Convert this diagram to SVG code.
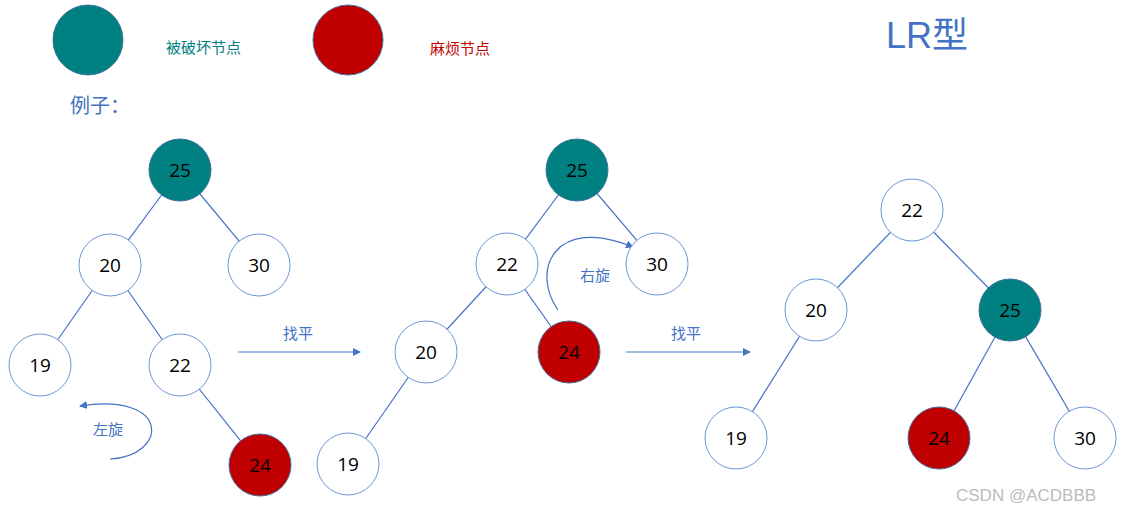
<svg xmlns="http://www.w3.org/2000/svg" width="1125" height="515" viewBox="0 0 1125 515">
<defs>
<marker id="ah" markerWidth="8" markerHeight="8" refX="7" refY="4" orient="auto" markerUnits="userSpaceOnUse"><path d="M0,0 L8,4 L0,8 Z" fill="#4472C4"/></marker>
<style>
.n{fill:#fff;stroke:#6C97D2;stroke-width:1}
.t{fill:#008080;stroke:#41719C;stroke-width:1}
.r{fill:#C00000;stroke:#41719C;stroke-width:1}
.v{font-family:"Open Sans","Liberation Sans",sans-serif;font-size:19px;fill:#000;text-anchor:middle;dominant-baseline:central}
.e line,.e path{stroke:#4472C4;stroke-width:1.2;fill:none}
.l{font-family:"Liberation Sans","Noto Sans CJK SC",sans-serif;fill:#4472C4}
</style>
</defs>
<rect width="1125" height="515" fill="#fff"/>
<g id="legend">
<circle cx="88" cy="40" r="35" class="t"/>
<text x="166" y="53" class="l" style="fill:#008080;font-size:15px">被破坏节点</text>
<circle cx="348" cy="40" r="35" class="r"/>
<text x="430" y="54" class="l" style="fill:#C00000;font-size:15px">麻烦节点</text>
<text x="70" y="113" class="l" style="font-size:20px">例子：</text>
<text x="886" y="48" class="l" style="font-size:36px">LR型</text>
</g>
<g id="connectors" class="e">
<line x1="180" y1="170" x2="110" y2="265"/><line x1="180" y1="170" x2="259" y2="265"/>
<line x1="110" y1="265" x2="40" y2="365"/><line x1="110" y1="265" x2="180" y2="365"/>
<line x1="180" y1="365" x2="260" y2="465"/>
<line x1="577" y1="170" x2="507" y2="264"/><line x1="577" y1="170" x2="657" y2="264"/>
<line x1="507" y1="264" x2="426" y2="352"/><line x1="507" y1="264" x2="569" y2="352"/>
<line x1="426" y1="352" x2="348" y2="464"/>
<line x1="912" y1="210" x2="816" y2="310"/><line x1="912" y1="210" x2="1010" y2="310"/>
<line x1="816" y1="310" x2="736" y2="438"/><line x1="1010" y1="310" x2="939" y2="438"/><line x1="1010" y1="310" x2="1085" y2="438"/>
<line x1="238" y1="352" x2="360" y2="352" marker-end="url(#ah)"/>
<line x1="626" y1="352" x2="750" y2="352" marker-end="url(#ah)"/>
<path d="M110,459 C168,456 172,392 80,406" marker-end="url(#ah)"/>
<path d="M558,310 C530,270 555,215 633,247" marker-end="url(#ah)"/>
</g>
<text x="283" y="339" class="l" style="font-size:15px">找平</text>
<text x="671" y="339" class="l" style="font-size:15px">找平</text>
<text x="93" y="435" class="l" style="font-size:15px">左旋</text>
<text x="580" y="281" class="l" style="font-size:15px">右旋</text>
<g id="t1-25"><circle cx="180" cy="170" r="31" class="t"/><text x="180" y="170" class="v">25</text></g>
<g id="t1-20"><circle cx="110" cy="265" r="31" class="n"/><text x="110" y="265" class="v">20</text></g>
<g id="t1-30"><circle cx="259" cy="265" r="31" class="n"/><text x="259" y="265" class="v">30</text></g>
<g id="t1-19"><circle cx="40" cy="365" r="31" class="n"/><text x="40" y="365" class="v">19</text></g>
<g id="t1-22"><circle cx="180" cy="365" r="31" class="n"/><text x="180" y="365" class="v">22</text></g>
<g id="t1-24"><circle cx="260" cy="465" r="31" class="r"/><text x="260" y="465" class="v">24</text></g>
<g id="t2-25"><circle cx="577" cy="170" r="31" class="t"/><text x="577" y="170" class="v">25</text></g>
<g id="t2-22"><circle cx="507" cy="264" r="31" class="n"/><text x="507" y="264" class="v">22</text></g>
<g id="t2-30"><circle cx="657" cy="264" r="31" class="n"/><text x="657" y="264" class="v">30</text></g>
<g id="t2-20"><circle cx="426" cy="352" r="31" class="n"/><text x="426" y="352" class="v">20</text></g>
<g id="t2-24"><circle cx="569" cy="352" r="31" class="r"/><text x="569" y="352" class="v">24</text></g>
<g id="t2-19"><circle cx="348" cy="464" r="31" class="n"/><text x="348" y="464" class="v">19</text></g>
<g id="t3-22"><circle cx="912" cy="210" r="31" class="n"/><text x="912" y="210" class="v">22</text></g>
<g id="t3-20"><circle cx="816" cy="310" r="31" class="n"/><text x="816" y="310" class="v">20</text></g>
<g id="t3-25"><circle cx="1010" cy="310" r="31" class="t"/><text x="1010" y="310" class="v">25</text></g>
<g id="t3-19"><circle cx="736" cy="438" r="31" class="n"/><text x="736" y="438" class="v">19</text></g>
<g id="t3-24"><circle cx="939" cy="438" r="31" class="r"/><text x="939" y="438" class="v">24</text></g>
<g id="t3-30"><circle cx="1085" cy="438" r="31" class="n"/><text x="1085" y="438" class="v">30</text></g>
<text x="956" y="501" style="font-family:'Liberation Sans',sans-serif;font-size:17px;fill:#bbb">CSDN @ACDBBB</text>
</svg>
